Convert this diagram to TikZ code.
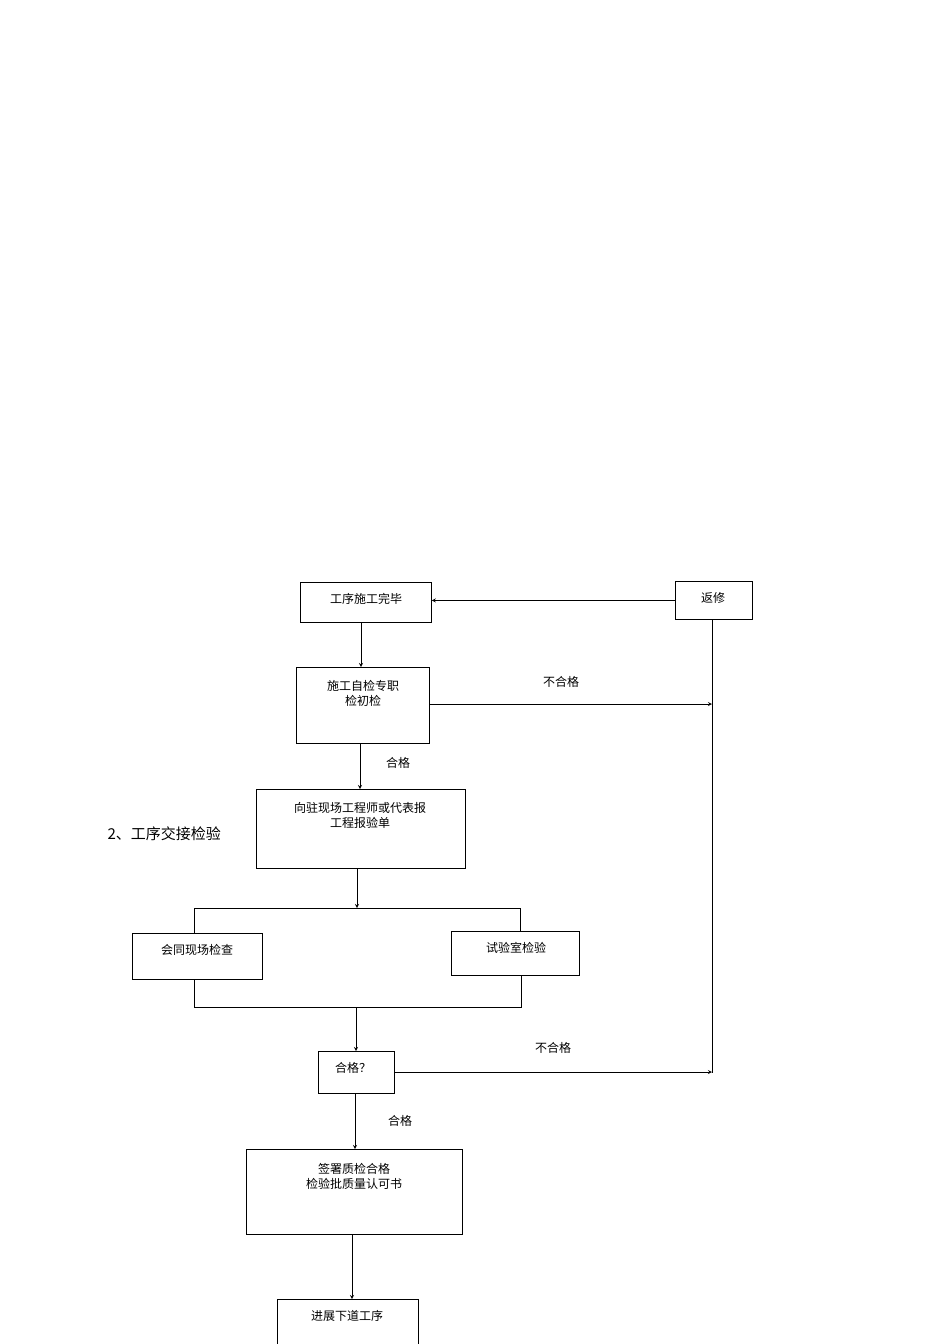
\documentclass[tikz,border=0pt]{standalone}
\usepackage{fontspec}
\newfontfamily\cjk{Noto Sans CJK SC}
\begin{document}
\begin{tikzpicture}[x=1pt,y=-1pt,
  bx/.style={draw,fill=white,line width=0.8pt,inner sep=0pt,anchor=north west},
  tx/.style={font=\cjk\fontsize{12}{15}\selectfont,align=center},
  ar/.style={->,>=stealth,line width=0.8pt},
  ln/.style={line width=0.8pt}]
\useasboundingbox (0,0) rectangle (950,1344);
\node[anchor=west,font=\cjk\fontsize{15}{18}\selectfont] (hd) at (104,834) {2、工序交接检验};
\node[bx,minimum width=131,minimum height=40] (A) at (300,582) {};
\node[tx] at (366,599) {工序施工完毕};
\node[bx,minimum width=77,minimum height=38] (R) at (675,581) {};
\node[tx] at (713,598) {返修};
\node[bx,minimum width=133,minimum height=76] (B) at (296,667) {};
\node[tx] at (363,693) {施工自检专职\\检初检};
\node[bx,minimum width=209,minimum height=79] (C) at (256,789) {};
\node[tx] at (360,815) {向驻现场工程师或代表报\\工程报验单};
\node[bx,minimum width=130,minimum height=46] (D) at (132,933) {};
\node[tx] at (197,950) {会同现场检查};
\node[bx,minimum width=128,minimum height=44] (E) at (451,931) {};
\node[tx] at (516,948) {试验室检验};
\node[bx,minimum width=76,minimum height=42] (F) at (318,1051) {};
\node[tx] at (353,1068) {合格？};
\node[bx,minimum width=216,minimum height=85] (G) at (246,1149) {};
\node[tx] at (354,1176) {签署质检合格\\检验批质量认可书};
\node[bx,minimum width=141,minimum height=50] (H) at (277,1299) {};
\node[tx] at (347,1316) {进展下道工序};
\node[tx] at (561,682) {不合格};
\node[tx] at (553,1048) {不合格};
\node[tx] at (398,763) {合格};
\node[tx] at (400,1121) {合格};
\coordinate (v1) at (712,704);
\coordinate (v2) at (712,1072);
\draw[ln] (R.south -| v1) -- (712,1073);
\draw[ar] (R.west) -- (A.east |- R.west);
\draw[ar] (361,622) -- (361,667);
\draw[ar] (B.east |- v1) -- (v1);
\draw[ar] (360,743) -- (360,789);
\draw[ar] (357,868) -- (357,908);
\draw[ln] (194,933) -- (194,908) -- (520,908) -- (520,931);
\draw[ln] (194,979) -- (194,1007) -- (521,1007) -- (521,975);
\draw[ar] (356,1007) -- (356,1051);
\draw[ar] (F.east |- v2) -- (v2);
\draw[ar] (355,1093) -- (355,1149);
\draw[ar] (352,1234) -- (352,1299);
\end{tikzpicture}
\end{document}
